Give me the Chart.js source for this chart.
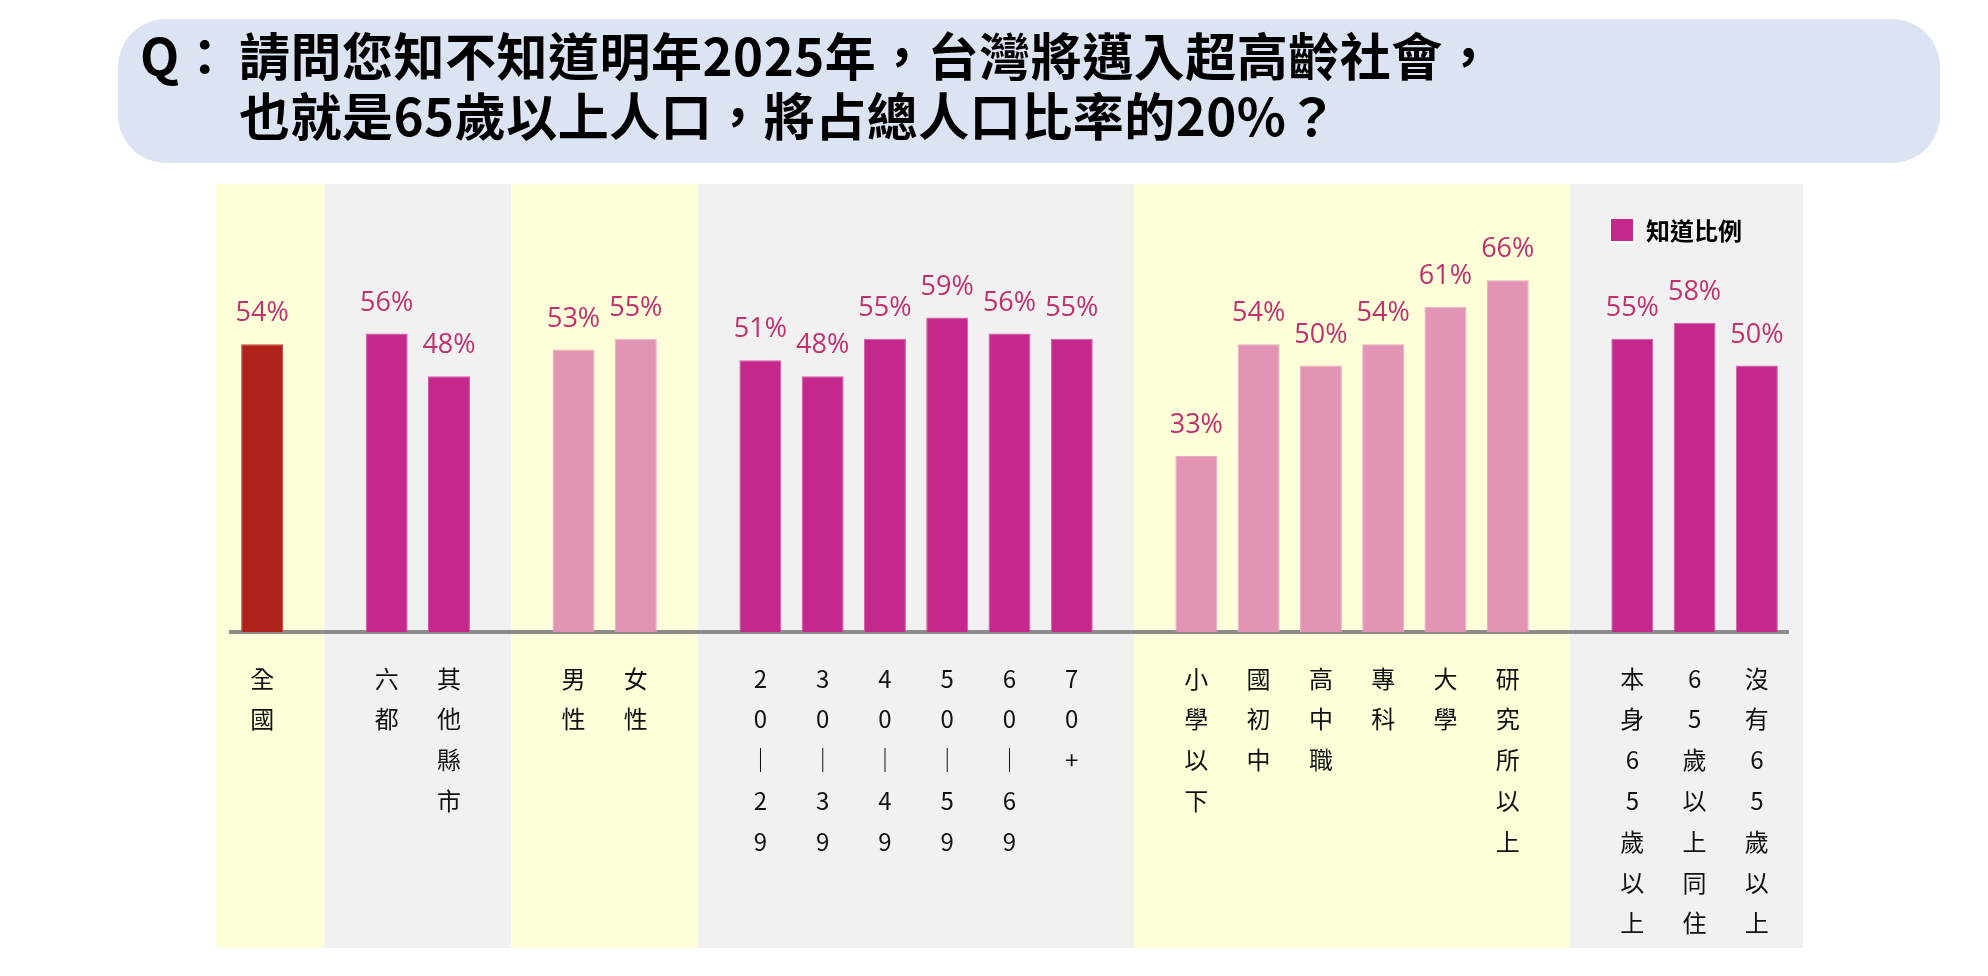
<!DOCTYPE html>
<html lang="zh-Hant">
<head>
<meta charset="utf-8">
<title>超高齡社會認知</title>
<script src="https://cdn.jsdelivr.net/npm/chart.js@4.4.1/dist/chart.umd.min.js"></script>
<style>
  html, body { margin: 0; padding: 0; background: #fff; }
  #wrap { position: relative; width: 1988px; height: 976px; overflow: hidden; }
  #title {
    position: absolute; left: 118px; top: 19px; width: 1822px; height: 144px;
    background: #dce3f2; border-radius: 48px; z-index: 2;
    font-family: "Noto Sans CJK TC", "Noto Sans CJK SC", sans-serif;
    font-weight: 700; font-size: 51px; line-height: 60px; color: #000;
    letter-spacing: 0.5px;
    box-sizing: border-box; padding: 5px 0 0 22px; white-space: nowrap;
  }
  #title .q { display: inline-block; width: 99px; letter-spacing: 0; }
  #title .l2 { padding-left: 99px; }
  #chart { position: absolute; left: 0; top: 0; z-index: 1; }
</style>
</head>
<body>
<div id="wrap">
  <div id="title">
    <div><span class="q">Q：</span>請問您知不知道明年2025年，台灣將邁入超高齡社會，</div>
    <div class="l2">也就是65歲以上人口，將占總人口比率的20%？</div>
  </div>
  <canvas id="chart" width="1988" height="976"></canvas>
</div>
<script>
// 知道比例 (%)
const catTotal = ['全國'];
const valTotal = [54];
const catArea = ['六都', '其他縣市'];
const valArea = [56, 48];
const catGender = ['男性', '女性'];
const valGender = [53, 55];
const catAge = ['20-29', '30-39', '40-49', '50-59', '60-69', '70+'];
const valAge = [51, 48, 55, 59, 56, 55];
const catEdu = ['小學以下', '國初中', '高中職', '專科', '大學', '研究所以上'];
const valEdu = [33, 54, 50, 54, 61, 66];
const catLive = ['本身65歲以上', '65歲以上同住', '沒有65歲以上'];
const valLive = [55, 58, 50];

const RED = '#b0231a', MAGENTA = '#c4288c', PINK = '#e194b4';
const edge = { [RED]: '#c8453a', [MAGENTA]: '#d45aa6', [PINK]: '#e9aac5' };

const groups = [
  { cats: catTotal, vals: valTotal, color: RED },
  { cats: catArea, vals: valArea, color: MAGENTA },
  { cats: catGender, vals: valGender, color: PINK },
  { cats: catAge, vals: valAge, color: MAGENTA },
  { cats: catEdu, vals: valEdu, color: PINK },
  { cats: catLive, vals: valLive, color: MAGENTA }
];

// one category axis, with an empty slot between groups
const labels = [];
const values = [];
const colors = [];
const edges = [];
const spans = [];
groups.forEach((g, gi) => {
  if (gi > 0) {
    labels.push('');
    values.push(null);
    colors.push('transparent');
    edges.push('transparent');
  }
  const start = labels.length;
  g.cats.forEach((c, i) => {
    labels.push(c.replace('-', '｜').split(''));
    values.push(g.vals[i]);
    colors.push(g.color);
    edges.push(edge[g.color]);
  });
  spans.push([start, labels.length - 1]);
});

const bands = {
  id: 'bands',
  beforeDraw(chart) {
    const { ctx, chartArea } = chart;
    const x = chart.scales.x;
    ctx.save();
    spans.forEach((s, i) => {
      const left = i === 0 ? chartArea.left - 15 : x.getPixelForValue(s[0] - 1);
      const right = i === spans.length - 1 ? chartArea.right + 15 : x.getPixelForValue(s[1] + 1);
      ctx.fillStyle = i % 2 === 0 ? '#ffffd9' : '#f1f1f1';
      ctx.fillRect(left, 184, right - left, 948 - 184);
    });
    ctx.restore();
  }
};

const valueLabels = {
  id: 'valueLabels',
  afterDatasetsDraw(chart) {
    const { ctx } = chart;
    const meta = chart.getDatasetMeta(0);
    ctx.save();
    ctx.font = '27px "Open Sans", "Noto Sans", sans-serif';
    ctx.fillStyle = '#c2306e';
    ctx.textAlign = 'center';
    ctx.textBaseline = 'alphabetic';
    meta.data.forEach((bar, i) => {
      const v = values[i];
      if (v === null) return;
      ctx.fillText(v + '%', bar.x, bar.y - 23);
    });
    ctx.restore();
  }
};

const legendBox = {
  id: 'legendBox',
  afterDraw(chart) {
    const { ctx, chartArea } = chart;
    const ds = chart.data.datasets[0];
    const x0 = chartArea.right - 177;
    const y0 = 219;
    ctx.save();
    ctx.fillStyle = '#ffffff';
    ctx.fillRect(x0 - 1, y0 - 1, 25, 25);
    ctx.fillStyle = MAGENTA;
    ctx.fillRect(x0, y0, 22, 22);
    ctx.font = '700 24px "Noto Sans CJK TC", sans-serif';
    ctx.fillStyle = '#000';
    ctx.textBaseline = 'middle';
    ctx.fillText(ds.label, x0 + 35, y0 + 12);
    ctx.restore();
  }
};

new Chart(document.getElementById('chart'), {
  type: 'bar',
  data: {
    labels: labels,
    datasets: [{
      label: '知道比例',
      data: values,
      backgroundColor: colors,
      borderColor: edges,
      borderWidth: 1,
      borderSkipped: 'start',
      categoryPercentage: 1,
      barPercentage: 0.674
    }]
  },
  options: {
    responsive: false,
    animation: false,
    devicePixelRatio: 1,
    layout: { padding: { top: 99, left: 231, right: 200, bottom: 0 } },
    plugins: { legend: { display: false }, tooltip: { enabled: false } },
    scales: {
      y: { display: false, min: 0, max: 100 },
      x: {
        z: 1,
        grid: { display: false, drawTicks: false },
        border: { display: true, color: '#8c8c8c', width: 4 },
        ticks: {
          autoSkip: false,
          maxRotation: 0,
          minRotation: 0,
          padding: 26,
          color: '#111',
          font: { family: '"Noto Sans CJK TC", sans-serif', size: 24, lineHeight: 1.7 }
        },
        afterFit(scale) { scale.height = 344; }
      }
    }
  },
  plugins: [bands, valueLabels, legendBox]
});
</script>
</body>
</html>
